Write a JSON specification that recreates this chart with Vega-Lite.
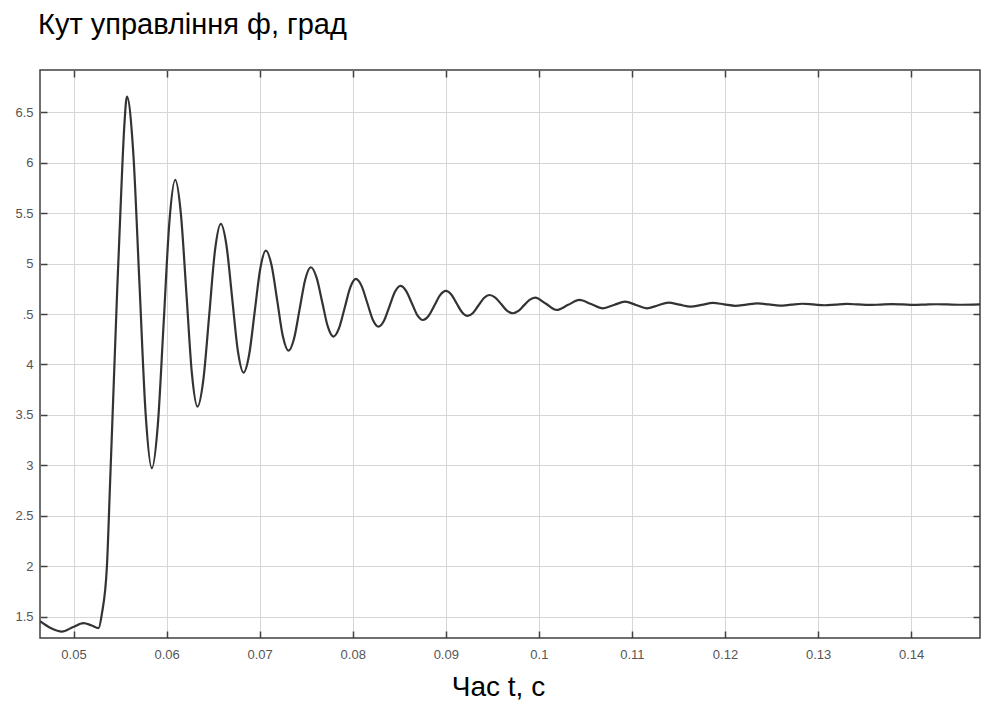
{
  "$schema": "https://vega.github.io/schema/vega-lite/v6.json",
  "autosize": "none",
  "width": 940,
  "height": 568,
  "padding": {"left": 40, "top": 70, "right": 2, "bottom": 66},
  "background": "white",
  "title": {"text": "Кут управління ф, град", "anchor": "start", "frame": "group", "font": "Liberation Sans", "fontSize": 29, "fontWeight": "normal", "color": "#000000", "dx": -2, "offset": 29},
  "config": {
    "view": {"stroke": "#404040", "strokeWidth": 1.5},
    "axis": {"labelFont": "Liberation Sans", "labelColor": "#555555", "labelFontSize": 13, "gridColor": "#d6d6d6", "gridWidth": 1, "domain": false, "tickColor": "#404040", "tickWidth": 1.5}
  },
  "data": {"values": [
    {"t": 0.04640, "phi": 1.455},
    {"t": 0.04760, "phi": 1.385},
    {"t": 0.04875, "phi": 1.352},
    {"t": 0.04990, "phi": 1.395},
    {"t": 0.05107, "phi": 1.436},
    {"t": 0.05190, "phi": 1.415},
    {"t": 0.05269, "phi": 1.386},
    {"t": 0.05305, "phi": 1.530},
    {"t": 0.05359, "phi": 2.000},
    {"t": 0.05394, "phi": 2.850},
    {"t": 0.05430, "phi": 3.750},
    {"t": 0.05470, "phi": 4.750},
    {"t": 0.05510, "phi": 5.650},
    {"t": 0.05545, "phi": 6.350},
    {"t": 0.05574, "phi": 6.655},
    {"t": 0.05641, "phi": 6.116},
    {"t": 0.05708, "phi": 4.814},
    {"t": 0.05775, "phi": 3.511},
    {"t": 0.05842, "phi": 2.972},
    {"t": 0.05905, "phi": 3.390},
    {"t": 0.05968, "phi": 4.401},
    {"t": 0.06030, "phi": 5.411},
    {"t": 0.06093, "phi": 5.829},
    {"t": 0.06153, "phi": 5.500},
    {"t": 0.06213, "phi": 4.706},
    {"t": 0.06272, "phi": 3.911},
    {"t": 0.06332, "phi": 3.582},
    {"t": 0.06395, "phi": 3.847},
    {"t": 0.06458, "phi": 4.488},
    {"t": 0.06520, "phi": 5.128},
    {"t": 0.06583, "phi": 5.393},
    {"t": 0.06644, "phi": 5.177},
    {"t": 0.06705, "phi": 4.656},
    {"t": 0.06766, "phi": 4.135},
    {"t": 0.06827, "phi": 3.919},
    {"t": 0.06887, "phi": 4.096},
    {"t": 0.06947, "phi": 4.524},
    {"t": 0.07007, "phi": 4.951},
    {"t": 0.07067, "phi": 5.128},
    {"t": 0.07128, "phi": 4.983},
    {"t": 0.07189, "phi": 4.633},
    {"t": 0.07249, "phi": 4.282},
    {"t": 0.07310, "phi": 4.137},
    {"t": 0.07370, "phi": 4.258},
    {"t": 0.07430, "phi": 4.551},
    {"t": 0.07490, "phi": 4.843},
    {"t": 0.07550, "phi": 4.964},
    {"t": 0.07611, "phi": 4.863},
    {"t": 0.07672, "phi": 4.620},
    {"t": 0.07732, "phi": 4.377},
    {"t": 0.07793, "phi": 4.276},
    {"t": 0.07853, "phi": 4.360},
    {"t": 0.07914, "phi": 4.562},
    {"t": 0.07974, "phi": 4.764},
    {"t": 0.08034, "phi": 4.848},
    {"t": 0.08095, "phi": 4.779},
    {"t": 0.08156, "phi": 4.612},
    {"t": 0.08216, "phi": 4.444},
    {"t": 0.08277, "phi": 4.375},
    {"t": 0.08336, "phi": 4.434},
    {"t": 0.08395, "phi": 4.577},
    {"t": 0.08454, "phi": 4.720},
    {"t": 0.08513, "phi": 4.779},
    {"t": 0.08573, "phi": 4.730},
    {"t": 0.08634, "phi": 4.610},
    {"t": 0.08694, "phi": 4.490},
    {"t": 0.08754, "phi": 4.441},
    {"t": 0.08816, "phi": 4.483},
    {"t": 0.08878, "phi": 4.585},
    {"t": 0.08939, "phi": 4.687},
    {"t": 0.09001, "phi": 4.729},
    {"t": 0.09059, "phi": 4.693},
    {"t": 0.09117, "phi": 4.605},
    {"t": 0.09175, "phi": 4.517},
    {"t": 0.09233, "phi": 4.481},
    {"t": 0.09292, "phi": 4.511},
    {"t": 0.09351, "phi": 4.585},
    {"t": 0.09410, "phi": 4.659},
    {"t": 0.09469, "phi": 4.689},
    {"t": 0.09532, "phi": 4.663},
    {"t": 0.09595, "phi": 4.599},
    {"t": 0.09657, "phi": 4.534},
    {"t": 0.09720, "phi": 4.508},
    {"t": 0.09780, "phi": 4.531},
    {"t": 0.09840, "phi": 4.586},
    {"t": 0.09900, "phi": 4.640},
    {"t": 0.09960, "phi": 4.663},
    {"t": 0.10077, "phi": 4.602},
    {"t": 0.10193, "phi": 4.541},
    {"t": 0.10315, "phi": 4.591},
    {"t": 0.10436, "phi": 4.640},
    {"t": 0.10562, "phi": 4.599},
    {"t": 0.10687, "phi": 4.557},
    {"t": 0.10807, "phi": 4.590},
    {"t": 0.10927, "phi": 4.623},
    {"t": 0.11044, "phi": 4.590},
    {"t": 0.11160, "phi": 4.557},
    {"t": 0.11276, "phi": 4.585},
    {"t": 0.11392, "phi": 4.613},
    {"t": 0.11511, "phi": 4.593},
    {"t": 0.11630, "phi": 4.573},
    {"t": 0.11750, "phi": 4.591},
    {"t": 0.11870, "phi": 4.610},
    {"t": 0.11990, "phi": 4.596},
    {"t": 0.12110, "phi": 4.582},
    {"t": 0.12230, "phi": 4.594},
    {"t": 0.12350, "phi": 4.605},
    {"t": 0.12470, "phi": 4.595},
    {"t": 0.12590, "phi": 4.584},
    {"t": 0.12710, "phi": 4.593},
    {"t": 0.12830, "phi": 4.602},
    {"t": 0.12950, "phi": 4.595},
    {"t": 0.13070, "phi": 4.587},
    {"t": 0.13190, "phi": 4.594},
    {"t": 0.13310, "phi": 4.600},
    {"t": 0.13430, "phi": 4.595},
    {"t": 0.13550, "phi": 4.590},
    {"t": 0.13670, "phi": 4.594},
    {"t": 0.13790, "phi": 4.598},
    {"t": 0.13910, "phi": 4.595},
    {"t": 0.14030, "phi": 4.591},
    {"t": 0.14150, "phi": 4.594},
    {"t": 0.14270, "phi": 4.597},
    {"t": 0.14390, "phi": 4.595},
    {"t": 0.14510, "phi": 4.592},
    {"t": 0.14740, "phi": 4.596}
  ]},
  "layer": [
    {
      "mark": {"type": "line", "color": "#333333", "strokeWidth": 2.2, "interpolate": "monotone", "clip": true},
      "encoding": {
        "x": {"field": "t", "type": "quantitative", "scale": {"domain": [0.0464, 0.1474], "nice": false, "zero": false},
          "axis": {"values": [0.05, 0.06, 0.07, 0.08, 0.09, 0.1, 0.11, 0.12, 0.13, 0.14], "format": "~g", "tickSize": -7, "labelPadding": 17, "title": "Час t, с", "titleFont": "Liberation Sans", "titleFontSize": 28, "titleFontWeight": "normal", "titleColor": "#000000", "titleX": 458, "titleY": 57, "titleBaseline": "alphabetic", "titleAnchor": "middle"}},
        "y": {"field": "phi", "type": "quantitative", "scale": {"domain": [1.289, 6.919], "nice": false, "zero": false},
          "axis": {"values": [1.5, 2, 2.5, 3, 3.5, 4, 4.5, 5, 5.5, 6, 6.5], "labelExpr": "abs(datum.value - 4.5) < 0.001 ? '.5' : format(datum.value, '~g')", "tickSize": -7, "labelPadding": 14, "title": null}}
      }
    },
    {
      "mark": {"type": "line", "strokeOpacity": 0, "interpolate": "monotone"},
      "encoding": {
        "x": {"field": "t", "type": "quantitative", "axis": {"orient": "top", "values": [0.05, 0.06, 0.07, 0.08, 0.09, 0.1, 0.11, 0.12, 0.13, 0.14], "labels": false, "grid": false, "tickSize": -7, "title": null}},
        "y": {"field": "phi", "type": "quantitative", "axis": {"orient": "right", "values": [1.5, 2, 2.5, 3, 3.5, 4, 4.5, 5, 5.5, 6, 6.5], "labels": false, "grid": false, "tickSize": -7, "title": null}}
      }
    }
  ],
  "resolve": {"axis": {"x": "independent", "y": "independent"}}
}
